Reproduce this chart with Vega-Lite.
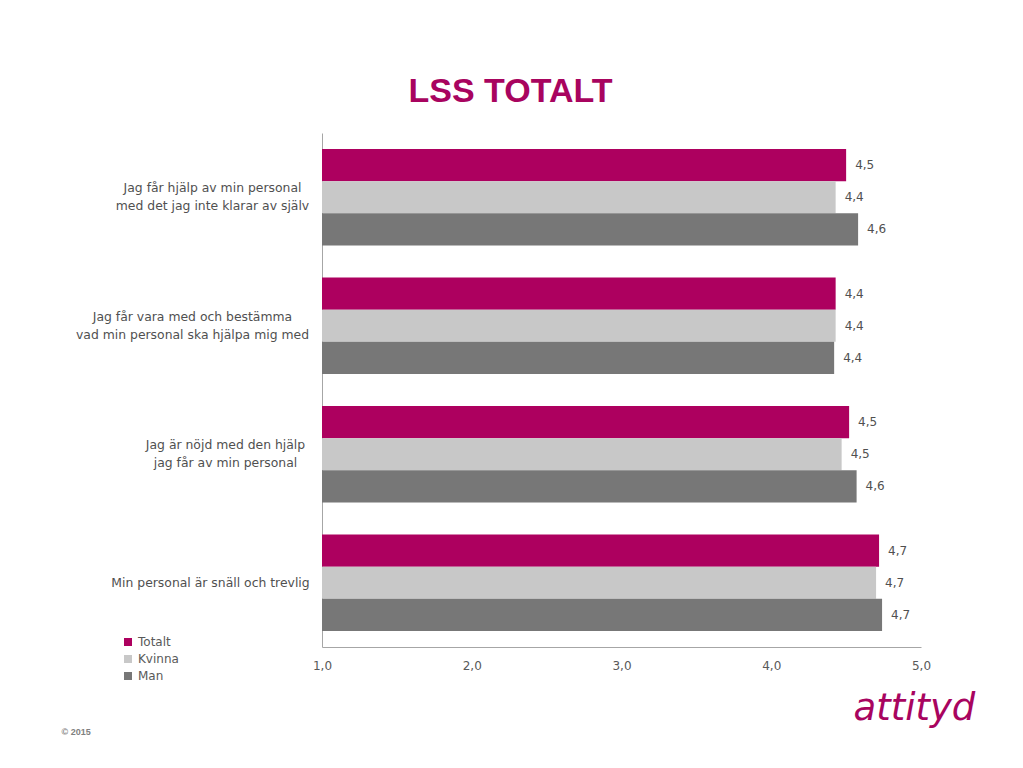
{
  "$schema": "https://vega.github.io/schema/vega-lite/v6.json",
  "autosize": "none",
  "padding": {"left": 322, "top": 133, "right": 102, "bottom": 121},
  "width": 599,
  "height": 514,
  "background": "white",
  "title": {
    "text": "LSS TOTALT",
    "anchor": "middle",
    "frame": "group",
    "dx": -111,
    "offset": 24,
    "font": "Liberation Sans",
    "fontSize": 34,
    "fontWeight": "bold",
    "color": "#A8045F"
  },
  "data": {
    "values": [
      {"q": "Jag får hjälp av min personal|med det jag inte klarar av själv", "serie": "Totalt", "value": 4.50},
      {"q": "Jag får hjälp av min personal|med det jag inte klarar av själv", "serie": "Kvinna", "value": 4.43},
      {"q": "Jag får hjälp av min personal|med det jag inte klarar av själv", "serie": "Man", "value": 4.58},
      {"q": "Jag får vara med och bestämma|vad min personal ska hjälpa mig med", "serie": "Totalt", "value": 4.43},
      {"q": "Jag får vara med och bestämma|vad min personal ska hjälpa mig med", "serie": "Kvinna", "value": 4.43},
      {"q": "Jag får vara med och bestämma|vad min personal ska hjälpa mig med", "serie": "Man", "value": 4.42},
      {"q": "Jag är nöjd med den hjälp|jag får av min personal", "serie": "Totalt", "value": 4.52},
      {"q": "Jag är nöjd med den hjälp|jag får av min personal", "serie": "Kvinna", "value": 4.47},
      {"q": "Jag är nöjd med den hjälp|jag får av min personal", "serie": "Man", "value": 4.57},
      {"q": "Min personal är snäll och trevlig", "serie": "Totalt", "value": 4.72},
      {"q": "Min personal är snäll och trevlig", "serie": "Kvinna", "value": 4.70},
      {"q": "Min personal är snäll och trevlig", "serie": "Man", "value": 4.74}
    ]
  },
  "encoding": {
    "y": {
      "field": "q",
      "type": "nominal",
      "sort": null,
      "scale": {"paddingInner": 0.25, "paddingOuter": 0.125},
      "axis": {
        "title": "© 2015",
        "titleAngle": 0,
        "titleX": -261,
        "titleY": 598,
        "titleAlign": "left",
        "titleBaseline": "middle",
        "titleFont": "Liberation Sans",
        "titleFontSize": 9,
        "titleFontWeight": "bold",
        "titleColor": "#808080",
        "labelExpr": "split(datum.label, '|')",
        "labelAlign": "center",
        "labelPadding": {
          "condition": [
            {"test": "indexof(datum.value, 'klarar') >= 0", "value": 110},
            {"test": "indexof(datum.value, 'bestämma') >= 0", "value": 130},
            {"test": "indexof(datum.value, 'nöjd') >= 0", "value": 97}
          ],
          "value": 112
        },
        "labelLineHeight": 18,
        "labelOffset": {"condition": {"test": "indexof(datum.value, '|') >= 0", "value": -9}, "value": 0},
        "labelFont": "DejaVu Sans",
        "labelFontSize": 12.4,
        "labelColor": "#505050",
        "labelLimit": 300,
        "ticks": false,
        "domainColor": "#A6A6A6",
        "domainWidth": 1
      }
    },
    "yOffset": {"field": "serie", "type": "nominal", "sort": ["Totalt", "Kvinna", "Man"], "scale": {"paddingInner": 0, "paddingOuter": 0}},
    "x": {
      "field": "value",
      "type": "quantitative",
      "scale": {"domain": [1, 5], "zero": false, "nice": false},
      "axis": {
        "values": [1, 2, 3, 4, 5],
        "format": ".1f",
        "ticks": false,
        "grid": false,
        "labelFlush": false,
        "labelPadding": 13,
        "labelFont": "DejaVu Sans",
        "labelFontSize": 12,
        "labelColor": "#595959",
        "domainColor": "#A6A6A6",
        "domainWidth": 1,
        "title": "attityd",
        "titleX": 531,
        "titleY": 72,
        "titleAlign": "left",
        "titleBaseline": "alphabetic",
        "titleFont": "DejaVu Sans",
        "titleFontSize": 37,
        "titleFontStyle": "italic",
        "titleFontWeight": "normal",
        "titleColor": "#A8045F"
      }
    }
  },
  "layer": [
    {
      "mark": {"type": "bar"},
      "encoding": {
        "x2": {"datum": 1},
        "color": {
          "field": "serie",
          "type": "nominal",
          "sort": ["Totalt", "Kvinna", "Man"],
          "scale": {"domain": ["Totalt", "Kvinna", "Man"], "range": ["#AD005F", "#C8C8C8", "#777777"]},
          "legend": {
            "title": null,
            "orient": "none",
            "legendX": -200,
            "legendY": 503,
            "symbolType": "square",
            "symbolSize": 64,
            "symbolStrokeWidth": 0,
            "labelFont": "DejaVu Sans",
            "labelFontSize": 12,
            "labelColor": "#595959",
            "rowPadding": 5,
            "padding": 0
          }
        }
      }
    },
    {
      "mark": {"type": "text", "align": "left", "baseline": "middle", "dx": 9, "font": "DejaVu Sans", "fontSize": 12, "color": "#505050"},
      "encoding": {
        "text": {"field": "value", "type": "quantitative", "format": ".1f"}
      }
    }
  ],
  "config": {
    "view": {"stroke": null},
    "locale": {"number": {"decimal": ",", "thousands": " ", "grouping": [3], "currency": ["", " kr"]}}
  }
}
